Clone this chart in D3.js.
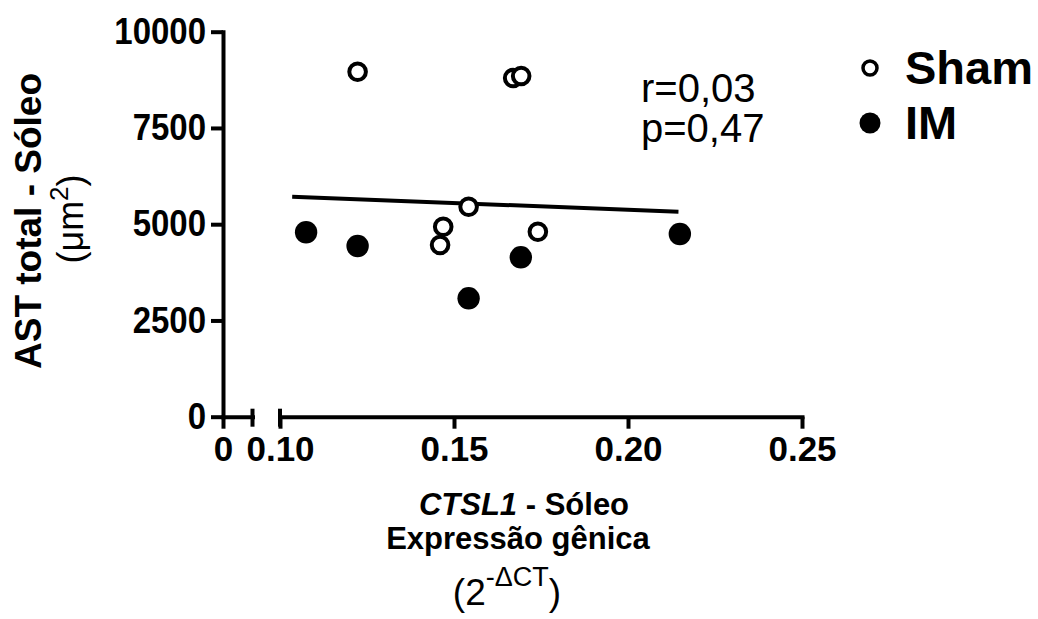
<!DOCTYPE html>
<html>
<head>
<meta charset="utf-8">
<script src="https://cdn.jsdelivr.net/npm/d3@7"></script>
<style>
  body { margin: 0; background: #fff; }
  svg { display: block; font-family: "Liberation Sans", Arial, sans-serif; }
</style>
</head>
<body>
<div id="chart"></div>
<script>
'use strict';

// data
var shamX = [0.1223, 0.1670, 0.1693, 0.1460, 0.1469, 0.1542, 0.1741];
var shamY = [8961, 8797, 8849, 4460, 4935, 5455, 4805];
var imX = [0.1075, 0.1223, 0.1542, 0.1692, 0.2149];
var imY = [4790, 4434, 3075, 4140, 4745];
var fitX = [0.1035, 0.2145];
var fitY = [5714, 5325];
var yTicks = [0, 2500, 5000, 7500, 10000];
var xTicks = [0.10, 0.15, 0.20, 0.25];
var seriesNames = ['Sham', 'IM'];
var statLines = ['r=0,03', 'p=0,47'];

var W = 1038, H = 619;
var svg = d3.select('#chart').append('svg')
  .attr('width', W).attr('height', H);

var y = d3.scaleLinear().domain([0, 10000]).range([416.7, 31.7]);
var x0 = d3.scaleLinear().domain([0, 0.01]).range([223, 252.5]);
var x = d3.scaleLinear().domain([0.10, 0.25]).range([280, 802]);

function styleAxis(g, fs) {
  g.select('.domain').attr('stroke', '#000').attr('stroke-width', 4).attr('stroke-linecap', 'square');
  g.selectAll('.tick line').attr('stroke', '#000').attr('stroke-width', 4);
  g.selectAll('.tick text').attr('fill', '#000')
    .attr('font-size', fs).attr('font-weight', 'bold')
    .attr('font-family', '"Liberation Sans", Arial, sans-serif');
}

// y axis
var yAxis = svg.append('g')
  .attr('transform', 'translate(' + x0(0) + ',0)')
  .call(d3.axisLeft(y).tickValues(yTicks).tickFormat(d3.format('d'))
    .tickSize(12).tickSizeOuter(0).tickPadding(5));
styleAxis(yAxis, 33);
yAxis.selectAll('.tick text').attr('transform', 'scale(1,1.1)');

// x axis, first segment (0 only)
var xAxis0 = svg.append('g')
  .attr('transform', 'translate(0,' + y(0) + ')')
  .call(d3.axisBottom(x0).tickValues([0]).tickFormat(d3.format('d'))
    .tickSize(12).tickSizeOuter(0).tickPadding(7));
styleAxis(xAxis0, 35);

// x axis, second segment
var xAxis1 = svg.append('g')
  .attr('transform', 'translate(0,' + y(0) + ')')
  .call(d3.axisBottom(x).tickValues(xTicks).tickFormat(d3.format('.2f'))
    .tickSize(12).tickSizeOuter(0).tickPadding(7));
styleAxis(xAxis1, 35);

// break caps
svg.append('g').selectAll('line')
  .data([x0(0.01), x(0.10)])
  .enter().append('line')
  .attr('x1', function(d) { return d; })
  .attr('x2', function(d) { return d; })
  .attr('y1', y(0) - 8)
  .attr('y2', y(0) + 10)
  .attr('stroke', '#000').attr('stroke-width', 4);

// regression line
svg.append('line')
  .attr('x1', x(fitX[0])).attr('y1', y(fitY[0]))
  .attr('x2', x(fitX[1])).attr('y2', y(fitY[1]))
  .attr('stroke', '#000').attr('stroke-width', 4);

// points
svg.append('g').selectAll('circle')
  .data(imX.map(function(d, i) { return [d, imY[i]]; }))
  .enter().append('circle')
  .attr('cx', function(d) { return x(d[0]); })
  .attr('cy', function(d) { return y(d[1]); })
  .attr('r', 11.2)
  .attr('fill', '#000');

svg.append('g').selectAll('circle')
  .data(shamX.map(function(d, i) { return [d, shamY[i]]; }))
  .enter().append('circle')
  .attr('cx', function(d) { return x(d[0]); })
  .attr('cy', function(d) { return y(d[1]); })
  .attr('r', 8.3)
  .attr('fill', '#fff')
  .attr('stroke', '#000')
  .attr('stroke-width', 4);

// stats
svg.append('g').selectAll('text')
  .data(statLines)
  .enter().append('text')
  .attr('x', 641)
  .attr('y', function(d, i) { return 102 + i * 40; })
  .attr('font-size', 40)
  .text(function(d) { return d; });

// legend
var legend = svg.append('g').selectAll('g')
  .data(seriesNames)
  .enter().append('g')
  .attr('transform', function(d, i) { return 'translate(870,' + (68 + i * 55) + ')'; });

legend.append('circle')
  .attr('r', function(d, i) { return i === 0 ? 7 : 10.5; })
  .attr('fill', function(d, i) { return i === 0 ? '#fff' : '#000'; })
  .attr('stroke', '#000')
  .attr('stroke-width', function(d, i) { return i === 0 ? 3.5 : 0; });

legend.append('text')
  .attr('x', 35)
  .attr('y', 16)
  .attr('font-size', 47)
  .attr('font-weight', 'bold')
  .text(function(d) { return d; });

// y title
var yt = svg.append('g').attr('text-anchor', 'middle');
yt.append('text')
  .attr('transform', 'translate(41,221) rotate(-90)')
  .attr('font-size', 37).attr('font-weight', 'bold')
  .text('AST total - Sóleo');
var yt2 = yt.append('text')
  .attr('transform', 'translate(83,219) rotate(-90)')
  .attr('font-size', 36);
yt2.append('tspan').text('(μm');
yt2.append('tspan').attr('dy', -15).attr('font-size', 26).text('2');
yt2.append('tspan').attr('dy', 15).text(')');

// x title
var xt = svg.append('g').attr('text-anchor', 'middle');
var l1 = xt.append('text').attr('x', 524).attr('y', 515)
  .attr('font-size', 31).attr('font-weight', 'bold');
l1.append('tspan').attr('font-style', 'italic').text('CTSL1');
l1.append('tspan').text(' - Sóleo');
xt.append('text').attr('x', 518).attr('y', 549)
  .attr('font-size', 31).attr('font-weight', 'bold')
  .text('Expressão gênica');
var l3 = xt.append('text').attr('x', 507).attr('y', 605)
  .attr('font-size', 37);
l3.append('tspan').text('(2');
l3.append('tspan').attr('dy', -19).attr('font-size', 27).text('-ΔCT');
l3.append('tspan').attr('dy', 19).text(')');
</script>
</body>
</html>
